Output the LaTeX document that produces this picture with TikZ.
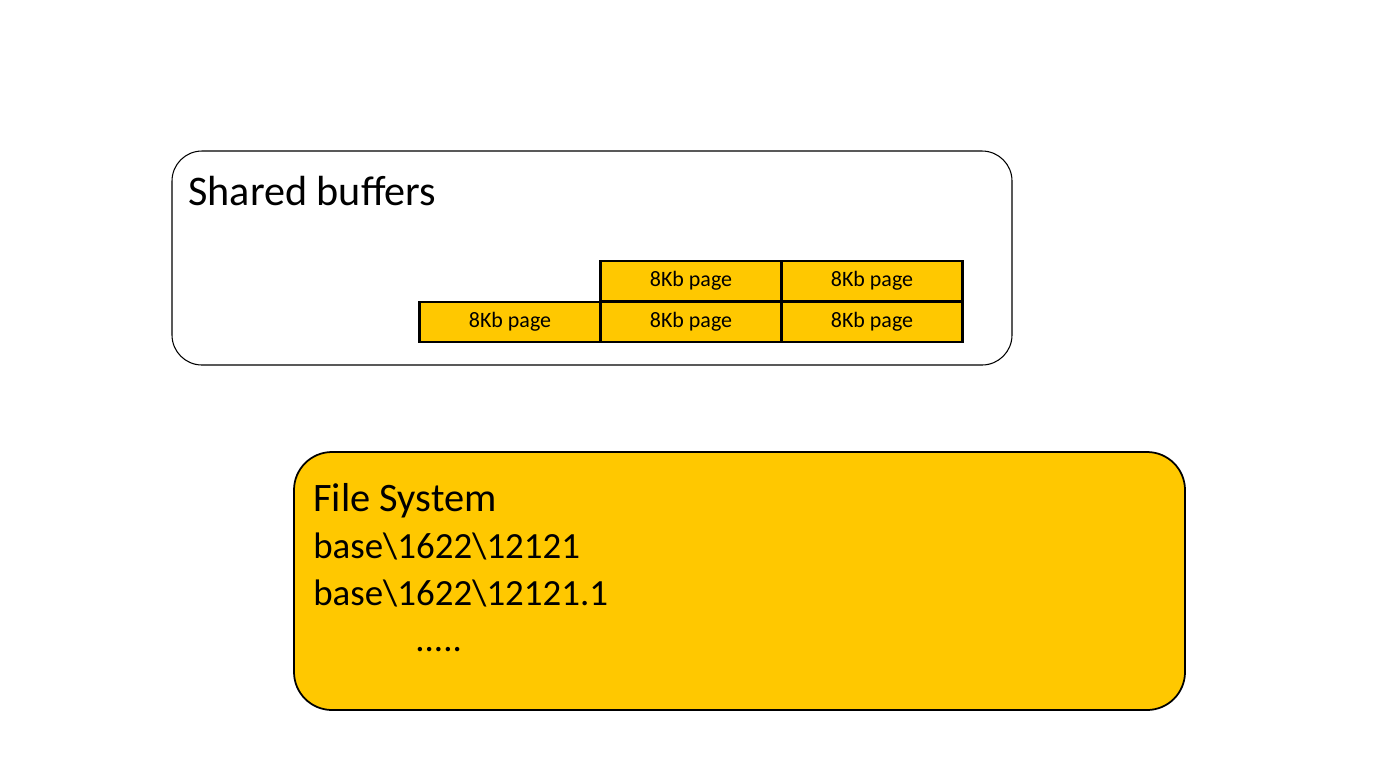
\documentclass[tikz,border=0pt]{standalone}
\usepackage{fontspec}
\setmainfont{Carlito}
\definecolor{gold}{RGB}{255,200,0}
\begin{document}
\begin{tikzpicture}[x=0.02cm,y=-0.02cm,
  page/.style={draw=black,line width=1.2pt,fill=gold,minimum width=181*0.02cm,minimum height=40.5*0.02cm,inner sep=0pt,font=\fontsize{12.5}{14}\selectfont},
  txt/.style={anchor=base west,inner sep=0pt}]
\useasboundingbox (0,0) rectangle (1378,775);
\draw[rounded corners=30*0.02cm,line width=0.6pt] (172,151) rectangle (1012,365);
\node[txt,font=\fontsize{24}{28}\selectfont] (sb) at (188,205) {Shared buffers};
\node[page] (p1) at (691,281) {8Kb page};
\node[page] (p2) at (872,281) {8Kb page};
\node[page] (p3) at (510,322) {8Kb page};
\node[page] (p4) at (691,322) {8Kb page};
\node[page] (p5) at (872,322) {8Kb page};
\draw[rounded corners=38*0.02cm,line width=1pt,fill=gold] (294,452) rectangle (1185,710);
\node[txt,font=\fontsize{23}{28}\selectfont] (fs) at (313,511) {File System};
\node[txt,font=\fontsize{21}{26}\selectfont] (f1) at (313,558) {base\textbackslash1622\textbackslash12121};
\node[txt,font=\fontsize{21}{26}\selectfont] (f2) at (313,605) {base\textbackslash1622\textbackslash12121.1};
\node[txt,font=\fontsize{21}{26}\selectfont] (f3) at (415,651) {.....};
\end{tikzpicture}
\end{document}
